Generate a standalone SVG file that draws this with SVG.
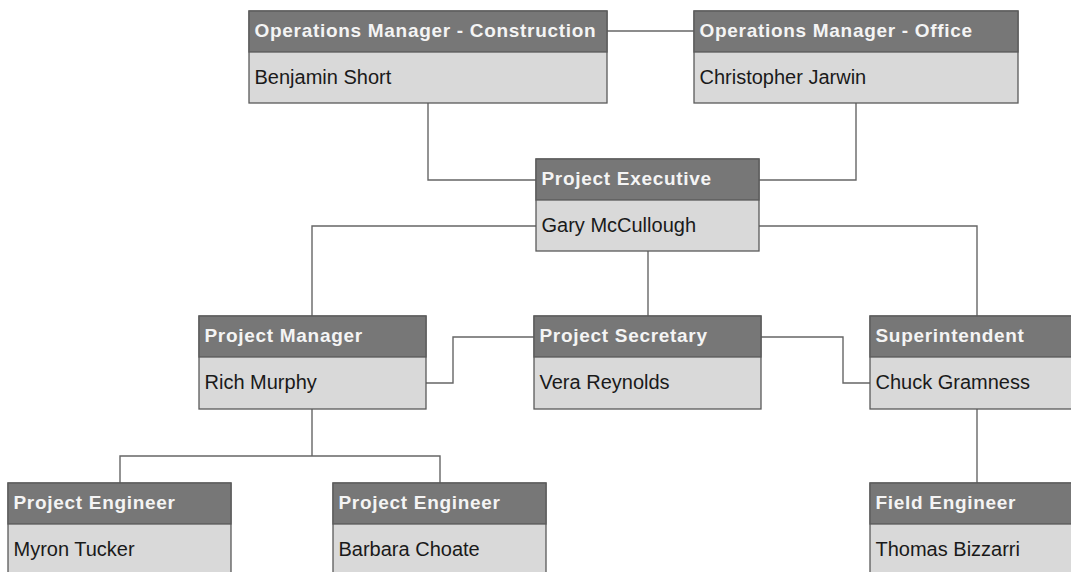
<svg xmlns="http://www.w3.org/2000/svg" width="1071" height="572" viewBox="0 0 1071 572">
<style>
.hd{fill:#777777;stroke:#5a5a5a;stroke-width:1.3}
.bd{fill:#d9d9d9;stroke:#5a5a5a;stroke-width:1.3}
.ht{font-family:"Liberation Sans",Arial,sans-serif;font-weight:bold;font-size:19px;letter-spacing:0.7px;fill:#f4f4f4}
.bt{font-family:"Liberation Sans",Arial,sans-serif;font-size:20px;fill:#1a1a1a}
.cn{fill:none;stroke:#666;stroke-width:1.4}
</style>
<rect width="1071" height="572" fill="#fff"/>
<g id="connectors">
<path class="cn" d="M607 31H694"/>
<path class="cn" d="M428 103V180H536"/>
<path class="cn" d="M856 103V180H759"/>
<path class="cn" d="M536 226H312V316"/>
<path class="cn" d="M759 226H977V316"/>
<path class="cn" d="M648 251V316"/>
<path class="cn" d="M534 337H453V383H426"/>
<path class="cn" d="M761 337H843V383H870"/>
<path class="cn" d="M312 409V456M120 483V456H440V483"/>
<path class="cn" d="M977 409V483"/>
</g>
<g id="ops-construction">
<rect class="bd" x="249" y="11" width="358" height="92"/>
<rect class="hd" x="249" y="11" width="358" height="41"/>
<text class="ht" x="254.5" y="37">Operations Manager - Construction</text>
<text class="bt" x="254.5" y="84">Benjamin Short</text>
</g>
<g id="ops-office">
<rect class="bd" x="694" y="11" width="324" height="92"/>
<rect class="hd" x="694" y="11" width="324" height="41"/>
<text class="ht" x="699.5" y="37">Operations Manager - Office</text>
<text class="bt" x="699.5" y="84">Christopher Jarwin</text>
</g>
<g id="project-executive">
<rect class="bd" x="536" y="159" width="223" height="92"/>
<rect class="hd" x="536" y="159" width="223" height="41"/>
<text class="ht" x="541.5" y="185">Project Executive</text>
<text class="bt" x="541.5" y="232">Gary McCullough</text>
</g>
<g id="project-manager">
<rect class="bd" x="199" y="316" width="227" height="93"/>
<rect class="hd" x="199" y="316" width="227" height="41"/>
<text class="ht" x="204.5" y="342">Project Manager</text>
<text class="bt" x="204.5" y="389">Rich Murphy</text>
</g>
<g id="project-secretary">
<rect class="bd" x="534" y="316" width="227" height="93"/>
<rect class="hd" x="534" y="316" width="227" height="41"/>
<text class="ht" x="539.5" y="342">Project Secretary</text>
<text class="bt" x="539.5" y="389">Vera Reynolds</text>
</g>
<g id="superintendent">
<rect class="bd" x="870" y="316" width="220" height="93"/>
<rect class="hd" x="870" y="316" width="220" height="41"/>
<text class="ht" x="875.5" y="342">Superintendent</text>
<text class="bt" x="875.5" y="389">Chuck Gramness</text>
</g>
<g id="project-engineer-1">
<rect class="bd" x="8" y="483" width="223" height="100"/>
<rect class="hd" x="8" y="483" width="223" height="41"/>
<text class="ht" x="13.5" y="509">Project Engineer</text>
<text class="bt" x="13.5" y="556">Myron Tucker</text>
</g>
<g id="project-engineer-2">
<rect class="bd" x="333" y="483" width="213" height="100"/>
<rect class="hd" x="333" y="483" width="213" height="41"/>
<text class="ht" x="338.5" y="509">Project Engineer</text>
<text class="bt" x="338.5" y="556">Barbara Choate</text>
</g>
<g id="field-engineer">
<rect class="bd" x="870" y="483" width="220" height="100"/>
<rect class="hd" x="870" y="483" width="220" height="41"/>
<text class="ht" x="875.5" y="509">Field Engineer</text>
<text class="bt" x="875.5" y="556">Thomas Bizzarri</text>
</g>
</svg>
